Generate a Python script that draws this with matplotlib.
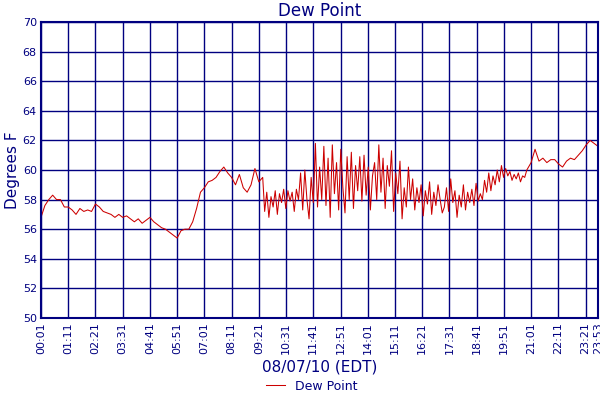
import numpy as np
import matplotlib
matplotlib.use("Agg")
import matplotlib.pyplot as plt

NAVY = "#000080"
RED = "#cc0000"

# calm morning, 10-minute readings from 00:01
early_vals = [56.8, 57.6, 58.0, 58.3, 58.0, 58.0, 57.5, 57.5, 57.3, 57.0,
              57.4, 57.2, 57.3, 57.2, 57.7, 57.5, 57.2, 57.1, 57.0, 56.8,
              57.0, 56.8, 56.9, 56.7, 56.5, 56.7, 56.4, 56.6, 56.8, 56.5,
              56.3, 56.1, 56.0, 55.8, 55.6, 55.4, 55.9, 56.0, 56.0, 56.5,
              57.4, 58.5, 58.8, 59.2, 59.3, 59.5, 59.9, 60.2, 59.8, 59.5,
              59.0, 59.7, 58.8, 58.5, 59.0, 60.1, 59.2, 59.5]
# gusty midday, denser readings from about 09:41 to 20:51
noisy_vals = [57.2, 58.5, 56.8, 58.2, 57.5, 58.6, 57.0, 58.4, 57.8, 58.7,
              57.4, 58.6, 57.9, 58.5, 57.2, 58.7, 58.0,
              59.8, 57.3, 60.0, 58.0, 56.7, 59.5, 57.8, 61.8, 57.5, 60.2,
              58.0, 61.6, 57.6, 60.8, 56.8, 61.7, 58.4, 60.5, 57.3, 61.4,
              58.8, 57.1, 60.9, 58.0, 61.2, 57.4, 60.3, 58.6, 60.9, 57.9,
              61.0, 58.3, 60.2, 57.3, 59.6, 60.5, 58.0, 61.7, 58.5, 60.8,
              57.4, 60.3, 58.9, 61.3, 57.2, 59.8, 58.4, 60.6, 56.7, 58.8,
              57.5, 60.2, 58.0, 59.4, 57.3, 58.8, 57.8, 59.0, 56.9, 58.6,
              57.7, 59.2, 57.0, 58.5, 57.6, 59.0, 58.0, 57.1,
              57.5, 58.8, 57.2, 59.4, 57.8, 58.6, 56.8, 58.3, 57.5, 59.0,
              57.3, 58.5, 57.8, 58.7, 57.6, 59.1, 57.9, 58.4, 58.0, 59.3,
              58.5, 59.8, 58.6, 59.6, 59.0, 60.0, 59.2, 60.3, 59.5, 60.1,
              59.6, 59.9, 59.3, 59.7, 59.4, 59.8, 59.2, 59.6, 59.5, 60.0]
# evening, 10-minute readings from 21:01
late_vals = [60.5, 61.4, 60.6, 60.8, 60.5, 60.7, 60.7, 60.4, 60.2, 60.6,
             60.8, 60.7, 61.0, 61.3, 61.7, 62.0, 61.8, 61.6]

t_early = 1 + 10 * np.arange(len(early_vals))
t_noisy = np.linspace(t_early[-1] + 5, 1250, len(noisy_vals))
t_late = np.linspace(1261, 1433, len(late_vals))
t = np.concatenate([t_early, t_noisy, t_late])
v = np.concatenate([early_vals, noisy_vals, late_vals])

tick_min = list(range(1, 1433, 70)) + [1433]
tick_lab = [f"{m // 60:02d}:{m % 60:02d}" for m in tick_min]

fig = plt.figure(figsize=(6, 4), dpi=100)
ax = fig.add_axes([41 / 600, 82 / 400, 557 / 600, 296 / 400])
ax.plot(t, v, color=RED, lw=0.75, label="Dew Point")
ax.set_xlim(1, 1433)
ax.set_ylim(50, 70)
ax.set_yticks(range(50, 71, 2))
ax.set_xticks(tick_min)
ax.set_xticklabels(tick_lab, rotation=90)
ax.grid(True, color=NAVY, lw=1)
ax.tick_params(colors=NAVY, labelsize=8, length=0, pad=3)
for s in ax.spines.values():
    s.set_color(NAVY)
    s.set_linewidth(1.5)
ax.set_title("Dew Point", color=NAVY, fontsize=12, pad=4)
ax.set_ylabel("Degrees F", color=NAVY, fontsize=11, labelpad=2)
ax.set_xlabel("08/07/10 (EDT)", color=NAVY, fontsize=11, labelpad=4)
fig.legend(loc="lower center", bbox_to_anchor=(0.52, -0.01), frameon=False,
           fontsize=9, handlelength=1.5, labelcolor=NAVY)
fig.savefig("out.png", dpi=100, facecolor="white")
